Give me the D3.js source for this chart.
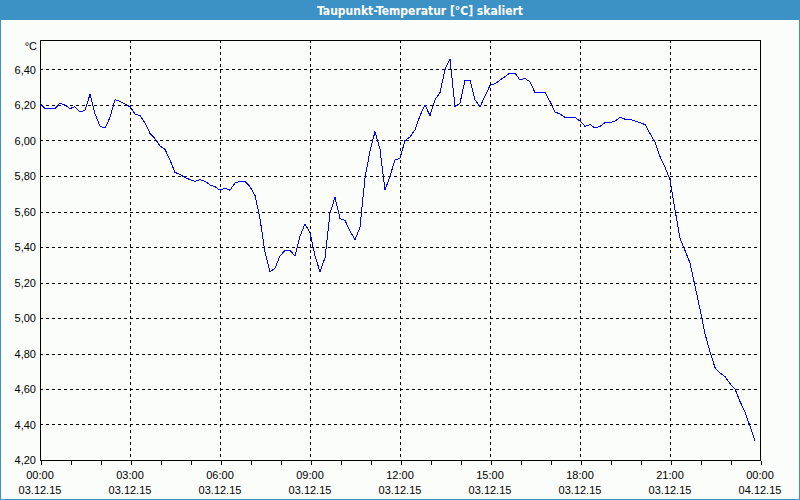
<!DOCTYPE html>
<html>
<head>
<meta charset="utf-8">
<script src="https://cdn.jsdelivr.net/npm/d3@7"></script>
<style>
  html, body { margin: 0; padding: 0; background: #fbfdfb; }
  svg { display: block; }
</style>
</head>
<body>
<svg id="chart" width="800" height="500"></svg>
<script>
const chartTitle = "Taupunkt-Temperatur [°C] skaliert";
const unitLabel = "°C";
const times = ["00:00","00:10","00:20","00:30","00:40","00:50","01:00","01:10","01:20","01:30","01:40","01:50",
  "02:00","02:10","02:20","02:30","02:40","03:00","03:10","03:20","03:30","03:40","03:50",
  "04:00","04:10","04:20","04:30","04:40","04:50","05:00","05:10","05:20","05:30","05:40","05:50",
  "06:00","06:10","06:20","06:30","06:40","06:50","07:00","07:10","07:20","07:30","07:40","07:50",
  "08:00","08:10","08:20","08:30","08:40","08:50","09:00","09:10","09:20","09:30","09:40","09:50",
  "10:00","10:10","10:20","10:30","10:40","10:50","11:00","11:10","11:20","11:30","11:40","11:50",
  "12:00","12:10","12:20","12:30","12:40","12:50","13:00","13:10","13:20","13:30","13:40","13:50",
  "14:00","14:10","14:20","14:30","14:40","14:50","15:00","15:10","15:20","15:30","15:40","15:50",
  "16:00","16:10","16:20","16:30","16:40","16:50","17:00","17:10","17:20","17:30","17:40","17:50",
  "18:00","18:10","18:20","18:30","18:40","18:50","19:00","19:10","19:20","19:30","19:40","19:50",
  "20:00","20:10","20:20","20:30","20:40","20:50","21:00","21:10","21:20","21:30","21:40","21:50",
  "22:00","22:10","22:20","22:30","22:40","22:50","23:00","23:10","23:20","23:30","23:40","23:50"];
const values = [6.21,6.18,6.18,6.18,6.21,6.20,6.18,6.19,6.16,6.17,6.26,6.15,
  6.08,6.07,6.13,6.23,6.22,6.19,6.15,6.14,6.10,6.04,6.01,
  5.97,5.95,5.89,5.82,5.81,5.79,5.78,5.77,5.78,5.77,5.75,5.74,
  5.72,5.73,5.72,5.76,5.77,5.77,5.74,5.69,5.56,5.37,5.26,5.28,
  5.35,5.38,5.38,5.35,5.46,5.53,5.48,5.35,5.26,5.34,5.59,5.68,
  5.56,5.55,5.49,5.44,5.51,5.79,5.94,6.05,5.95,5.72,5.80,5.89,
  5.90,6.00,6.02,6.06,6.14,6.20,6.14,6.23,6.27,6.40,6.46,6.19,
  6.21,6.34,6.34,6.23,6.19,6.25,6.31,6.32,6.34,6.36,6.38,6.38,
  6.34,6.35,6.33,6.27,6.27,6.27,6.22,6.16,6.15,6.13,6.13,6.13,
  6.11,6.08,6.09,6.07,6.08,6.10,6.10,6.11,6.13,6.12,6.12,6.11,
  6.10,6.09,6.04,5.99,5.91,5.85,5.78,5.61,5.45,5.38,5.31,5.18,
  5.05,4.91,4.81,4.72,4.69,4.67,4.63,4.60,4.53,4.47,4.39,4.31];
const yTickValues = [4.2,4.4,4.6,4.8,5.0,5.2,5.4,5.6,5.8,6.0,6.2,6.4];
const startDay = "2015-12-03";
const endDay = "2015-12-04";

(function () {
const svg = d3.select("#chart");
const W = 800, H = 500;
const pL = 40, pR = 760, pT = 40, pB = 460;

const parse = d3.timeParse("%Y-%m-%d %H:%M");
const t0 = parse(startDay + " 00:00"), t1 = parse(endDay + " 00:00");
const data = times.map((t, i) => ({ t: parse(startDay + " " + t), v: values[i] }));

const x = d3.scaleTime().domain([t0, t1]).range([pL, pR]);
const yMax = 4.2 + (pB - pT) / 177.5;
const y = d3.scaleLinear().domain([4.2, yMax]).range([pB, pT]);

svg.append("rect").attr("width", W).attr("height", H).attr("fill", "#fbfdfb");
const blue = "#3d92c5";
svg.append("rect").attr("x", 0).attr("y", 0).attr("width", W).attr("height", 20).attr("fill", blue);
svg.append("rect").attr("x", 0.5).attr("y", 0.5).attr("width", W - 1).attr("height", H - 1)
  .attr("fill", "none").attr("stroke", blue).attr("stroke-width", 1);
svg.append("text").attr("x", 420).attr("y", 14.5).attr("text-anchor", "middle")
  .attr("font-family", "'DejaVu Sans Condensed', 'Liberation Sans', Arial, sans-serif")
  .attr("font-size", 12).attr("font-weight", "bold").attr("fill", "#ffffff")
  .text(chartTitle);

const g = svg.append("g");
const fontFam = "'Liberation Sans', Arial, sans-serif";

g.append("g").selectAll("line").data(yTickValues.filter(v => v > 4.2)).join("line")
  .attr("x1", pL).attr("x2", pR)
  .attr("y1", d => Math.round(y(d)) + 0.5).attr("y2", d => Math.round(y(d)) + 0.5)
  .attr("stroke", "#000").attr("stroke-width", 1).attr("stroke-dasharray", "3,3")
  .attr("shape-rendering", "crispEdges");

const majorTicks = d3.timeHour.every(3).range(t0, d3.timeMinute.offset(t1, 1));
g.append("g").selectAll("line").data(majorTicks.filter(d => d > t0 && d < t1)).join("line")
  .attr("x1", d => Math.round(x(d)) + 0.5).attr("x2", d => Math.round(x(d)) + 0.5)
  .attr("y1", pT).attr("y2", pB)
  .attr("stroke", "#000").attr("stroke-width", 1).attr("stroke-dasharray", "3,3")
  .attr("shape-rendering", "crispEdges");

g.append("rect").attr("x", pL + 0.5).attr("y", pT + 0.5)
  .attr("width", pR - pL).attr("height", pB - pT)
  .attr("fill", "none").attr("stroke", "#000").attr("shape-rendering", "crispEdges");

const xAxis = d3.axisBottom(x).ticks(d3.timeHour.every(1)).tickSize(4).tickFormat("");
const xg = g.append("g").attr("transform", `translate(0.5,${pB + 0.5})`).call(xAxis);
xg.select(".domain").remove();
xg.selectAll("line").attr("stroke", "#000").attr("shape-rendering", "crispEdges");

const fmtTime = d3.timeFormat("%H:%M"), fmtDate = d3.timeFormat("%d.%m.%y");
const lab = g.append("g").selectAll("g").data(majorTicks).join("g")
  .attr("transform", d => `translate(${x(d)},0)`);
lab.append("text").attr("y", 479).attr("text-anchor", "middle")
  .attr("font-family", fontFam).attr("font-size", 11).attr("fill", "#000")
  .text(d => fmtTime(d));
lab.append("text").attr("y", 494).attr("text-anchor", "middle")
  .attr("font-family", fontFam).attr("font-size", 11).attr("fill", "#000")
  .text(d => fmtDate(d));

g.append("g").selectAll("text").data(yTickValues).join("text")
  .attr("x", 36).attr("y", d => y(d) + 4).attr("text-anchor", "end")
  .attr("font-family", fontFam).attr("font-size", 11).attr("fill", "#000")
  .text(d => d.toFixed(2).replace(".", ","));
g.append("text").attr("x", 37).attr("y", 50).attr("text-anchor", "end")
  .attr("font-family", fontFam).attr("font-size", 11).attr("fill", "#000")
  .text(unitLabel);

const line = d3.line().x(d => x(d.t)).y(d => y(d.v));
g.append("path").datum(data).attr("d", line)
  .attr("fill", "none").attr("stroke", "#0000ff").attr("stroke-width", 1)
  .attr("shape-rendering", "crispEdges");
})();
</script>
</body>
</html>
